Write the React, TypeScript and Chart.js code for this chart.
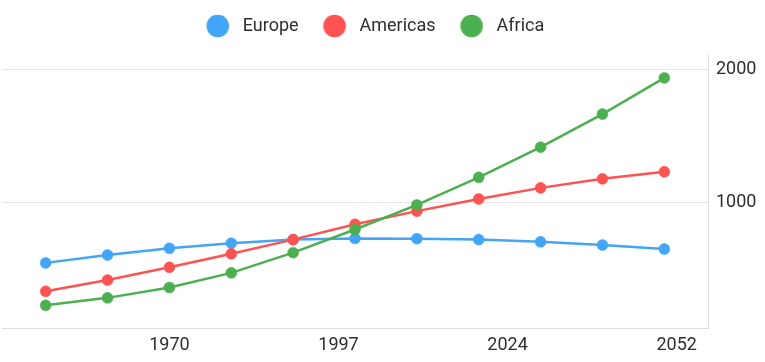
import React, { useEffect, useRef } from 'react';
import { Chart, registerables } from 'chart.js';

Chart.register(...registerables);

const years = [1950, 1960, 1970, 1980, 1990, 2000, 2010, 2020, 2030, 2040, 2050];
const europe = [546, 605, 656, 694, 721, 730, 728, 721, 704, 680, 650];
const americas = [332, 417, 513, 614, 721, 836, 935, 1027, 1110, 1178, 1231];
const africa = [227, 283, 361, 471, 623, 797, 982, 1189, 1416, 1665, 1937];

const seriesNames = ['Europe', 'Americas', 'Africa'];
const seriesColors = ['#42a5f5', '#ff5252', '#4caf50'];

const xTickValues = [1970, 1997.333, 2024.667, 2052];
const xTickLabels = ['1970', '1997', '2024', '2052'];
const yTickValues = [1000, 2000];

const FONT = 'Roboto';
const TEXT_COLOR = '#2e2e2e';

function makeMarker(color: string): HTMLCanvasElement {
  const c = document.createElement('canvas');
  c.width = 40;
  c.height = 24;
  const ctx = c.getContext('2d')!;
  ctx.fillStyle = color;
  ctx.beginPath();
  ctx.arc(23, 12, 11.3, 0, Math.PI * 2);
  ctx.fill();
  return c;
}

export default function App() {
  const canvasRef = useRef<HTMLCanvasElement | null>(null);

  useEffect(() => {
    document.body.style.margin = '0';
    const canvas = canvasRef.current;
    if (!canvas) return;
    const markers = seriesColors.map(makeMarker);
    const seriesData = [europe, americas, africa];

    const legendTweak = {
      id: 'legendTweak',
      beforeInit(chart: any) {
        const legend = chart.legend;
        if (legend) {
          const origFit = legend.fit;
          legend.fit = function (this: any) {
            origFit.call(this);
            this.height += 10;
          };
        }
      },
      afterLayout(chart: any) {
        const legend = chart.legend;
        if (legend) {
          legend.right = legend.right - 27;
        }
      },
    };

    const chart = new Chart(canvas, {
      type: 'line',
      data: {
        datasets: seriesNames.map((name, i) => ({
          label: name,
          data: years.map((y, j) => ({ x: y, y: seriesData[i][j] })),
          borderColor: seriesColors[i],
          backgroundColor: seriesColors[i],
          pointBackgroundColor: seriesColors[i],
          pointBorderColor: seriesColors[i],
          borderWidth: 2.5,
          pointRadius: 5.5,
          pointBorderWidth: 0.5,
          tension: 0,
          order: 3 - i,
        })),
      },
      options: {
        animation: false,
        responsive: true,
        maintainAspectRatio: false,
        layout: { autoPadding: false, padding: { left: 2, right: 0, top: 3, bottom: 0 } },
        plugins: {
          tooltip: { enabled: false },
          legend: {
            display: true,
            position: 'top',
            align: 'center',
            labels: {
              usePointStyle: true,
              pointStyleWidth: 38,
              padding: 14,
              color: TEXT_COLOR,
              font: { family: FONT, size: 18 },
              generateLabels(chart: any) {
                return chart.data.datasets.map((ds: any, i: number) => ({
                  text: ds.label,
                  fillStyle: seriesColors[i],
                  strokeStyle: seriesColors[i],
                  lineWidth: 0,
                  pointStyle: markers[i],
                  hidden: false,
                  datasetIndex: i,
                  fontColor: TEXT_COLOR,
                }));
              },
            },
          },
        },
        scales: {
          x: {
            type: 'linear',
            min: 1942.94,
            max: 2057.06,
            grid: { display: false, drawTicks: false },
            border: { display: true, color: '#dedede', width: 1 },
            afterBuildTicks(scale: any) {
              scale.ticks = xTickValues.map((v) => ({ value: v }));
            },
            afterFit(scale: any) {
              scale.height = 34;
              scale.paddingLeft = 0;
              scale.paddingRight = 0;
            },
            ticks: {
              padding: 7,
              color: TEXT_COLOR,
              font: { family: FONT, size: 18 },
              maxRotation: 0,
              autoSkip: false,
              callback(value: any, index: number) {
                return xTickLabels[index];
              },
            },
          },
          y: {
            type: 'linear',
            position: 'right',
            min: 56.4,
            max: 2109,
            grid: { display: true, color: '#e6e6e6', drawTicks: false },
            border: { display: true, color: '#dedede', width: 1 },
            afterBuildTicks(scale: any) {
              scale.ticks = yTickValues.map((v) => ({ value: v }));
            },
            afterFit(scale: any) {
              scale.width = 57;
            },
            ticks: {
              padding: 8,
              color: TEXT_COLOR,
              font: { family: FONT, size: 18 },
              callback(value: any) {
                return String(value);
              },
            },
          },
        },
      },
      plugins: [legendTweak],
    } as any);

    return () => {
      chart.destroy();
    };
  }, []);

  return (
    <div style={{ position: 'relative', width: 765, height: 362 }}>
      <canvas ref={canvasRef} />
    </div>
  );
}
